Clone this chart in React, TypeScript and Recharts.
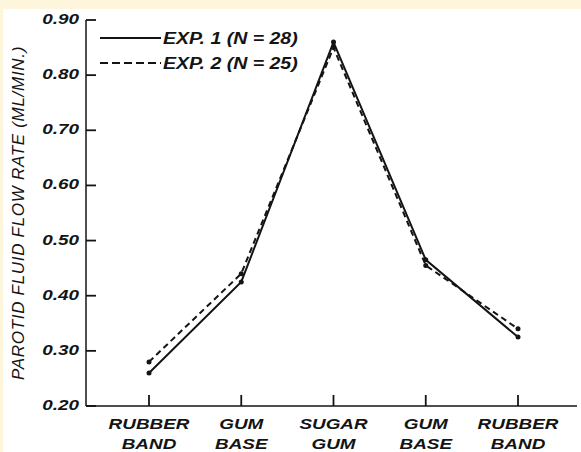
import { LineChart, Line, XAxis, YAxis, Legend } from 'recharts';

// conditions along the x axis (two-line labels)
const conditions = ['RUBBER\nBAND', 'GUM\nBASE', 'SUGAR\nGUM', 'GUM\nBASE', 'RUBBER\nBAND'];
const exp1 = [0.26, 0.425, 0.86, 0.465, 0.325];
const exp2 = [0.28, 0.44, 0.85, 0.455, 0.34];
const yTicks = [0.2, 0.3, 0.4, 0.5, 0.6, 0.7, 0.8, 0.9];
const seriesNames = ['EXP. 1 (N = 28)', 'EXP. 2 (N = 25)'];

const data = conditions.map((c, i) => ({ cond: c, exp1: exp1[i], exp2: exp2[i] }));

const INK = '#141414';
const FONT = '"Liberation Sans", Arial, sans-serif';
const STRETCH = 1.26; // the scanned lettering is wide

// ticks point inward, so the tick marks are drawn here with the label
const YTick = ({ x, y, payload }: any) => (
    <g transform={`translate(${x},${y})`}>
        <line x1={7} y1={0} x2={17} y2={0} stroke={INK} strokeWidth={1.8} />
        <text x={0} y={0} dy={4} textAnchor="end" fill={INK} fontFamily={FONT}
            fontSize={15} fontStyle="italic" fontWeight="bold" transform={`scale(${STRETCH},1)`}>
            {Number(payload.value).toFixed(2)}
        </text>
    </g>
);

const XTick = ({ x, y, payload }: any) => {
    const lines = String(payload.value).split('\n');
    return (
        <g transform={`translate(${x},${y})`}>
            <line x1={0} y1={0} x2={0} y2={11} stroke={INK} strokeWidth={1.8} />
            <text textAnchor="middle" fill={INK} fontFamily={FONT} fontSize={15}
                fontStyle="italic" fontWeight="bold" transform={`scale(${STRETCH},1)`}>
                {lines.map((l, i) => (
                    <tspan key={i} x={0} y={34 + i * 20}>{l}</tspan>
                ))}
            </text>
        </g>
    );
};

const LegendBox = () => (
    <div style={{ fontFamily: FONT, fontSize: 16, fontStyle: 'italic', fontWeight: 'bold', color: INK }}>
        {seriesNames.map((n, i) => (
            <div key={n} style={{ display: 'flex', alignItems: 'center', height: 25, lineHeight: '25px' }}>
                <svg width={63} height={25} style={{ display: 'block' }}>
                    <line x1={0} y1={12} x2={61} y2={12} stroke={INK} strokeWidth={2}
                        strokeDasharray={i === 1 ? '8 4' : undefined} />
                </svg>
                <span style={{ whiteSpace: 'nowrap', display: 'inline-block', transform: 'scaleX(1.22)', transformOrigin: 'left center' }}>{n}</span>
            </div>
        ))}
    </div>
);

const YLabel = ({ viewBox }: any) => {
    const cx = viewBox.x + 24;
    const cy = viewBox.y + viewBox.height / 2;
    return (
        <text x={cx} y={cy} transform={`rotate(-90, ${cx}, ${cy})`} textAnchor="middle"
            fill={INK} fontFamily={FONT} fontSize={17} fontStyle="italic" letterSpacing={0.7}>
            PAROTID FLUID FLOW RATE (ML/MIN.)
        </text>
    );
};

export default function App() {
    return (
        <div style={{ position: 'fixed', left: 0, top: 0, width: 581, height: 452, background: '#fdf5dc' }}>
            <div style={{ position: 'absolute', left: 3, top: 9, width: 578, height: 443, background: '#ffffff' }} />
            <div style={{ position: 'absolute', left: 0, top: 0 }}>
                <LineChart width={581} height={452} data={data}
                    margin={{ top: 20, right: 4, bottom: 0, left: 0 }}>
                    <XAxis dataKey="cond" height={46} interval={0}
                        padding={{ left: 63, right: 59 }}
                        axisLine={{ stroke: INK, strokeWidth: 1.5 }}
                        tickLine={false}
                        tickSize={-11} tickMargin={0} tick={<XTick />} />
                    <XAxis xAxisId="top" orientation="top" dataKey="cond" height={0}
                        padding={{ left: 63, right: 59 }}
                        tick={false} tickLine={false}
                        axisLine={{ stroke: '#333', strokeWidth: 1.5 }} />
                    <YAxis width={86} domain={[0.2, 0.9]} ticks={yTicks} interval={0}
                        axisLine={{ stroke: INK, strokeWidth: 1.5 }}
                        tickLine={false}
                        tickSize={-10} tickMargin={17} tick={<YTick />}
                        label={<YLabel />} />
                    <YAxis yAxisId="right" orientation="right" width={0} domain={[0.2, 0.9]}
                        tick={false} tickLine={false}
                        axisLine={{ stroke: '#333', strokeWidth: 1.5 }} />
                    <Legend layout="vertical" align="center" verticalAlign="middle"
                        content={<LegendBox />}
                        wrapperStyle={{ left: 100, top: 26, width: 260, height: 50 }} />
                    <Line dataKey="exp1" name={seriesNames[0]} stroke={INK} strokeWidth={2}
                        dot={{ r: 2.5, fill: INK, stroke: INK, strokeWidth: 0 }}
                        isAnimationActive={false} />
                    <Line dataKey="exp2" name={seriesNames[1]} stroke={INK} strokeWidth={2}
                        strokeDasharray="6 4"
                        dot={{ r: 2.5, fill: INK, stroke: INK, strokeWidth: 0, strokeDasharray: '' }}
                        isAnimationActive={false} />
                </LineChart>
            </div>
        </div>
    );
}
